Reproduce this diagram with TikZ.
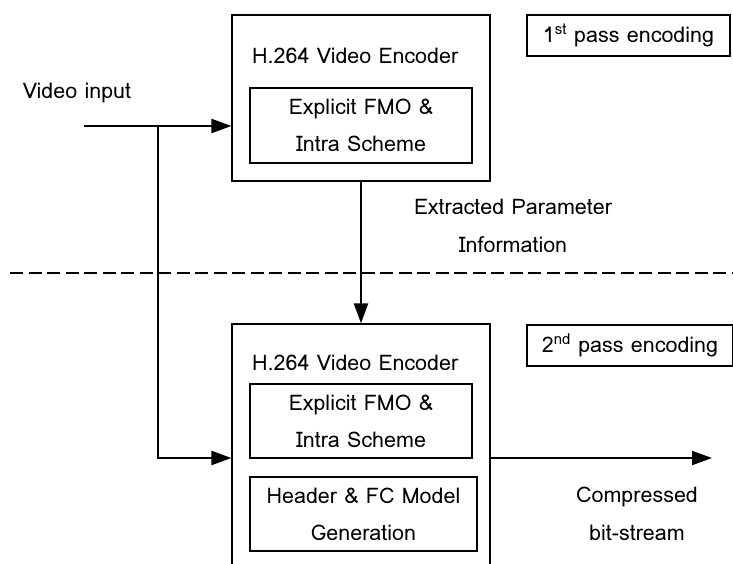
\documentclass[tikz,border=0pt]{standalone}
\usepackage{fontspec}
\setmainfont{Loma}
\usetikzlibrary{arrows.meta}
\tikzstyle{encbox}=[draw,line width=1.2pt,minimum width=258pt,inner sep=0pt]
\tikzstyle{subbox}=[draw,line width=1.2pt,align=center,inner sep=0pt,font=\fontsize{21.5}{37}\selectfont]
\tikzstyle{passbox}=[draw,line width=1.2pt,minimum width=203pt,minimum height=41pt,inner sep=0pt]
\tikzstyle{lbl}=[align=center,inner sep=0pt,font=\fontsize{21.5}{38}\selectfont]
\tikzstyle{flow}=[line width=2.2pt,-{Triangle[length=20pt,width=14pt]}]

\begin{document}
\begin{tikzpicture}[x=1pt,y=-1pt,font=\fontsize{21.5}{25}\selectfont]
\useasboundingbox (0,0) rectangle (733,564);
\clip (0,0) rectangle (733,564);
% first pass
\node[encbox,minimum height=166pt] at (361,98) (enc1) {};
\node[anchor=west,inner sep=0pt] at (252,56) (title1) {H.264 Video Encoder};
\node[subbox,minimum width=222pt,minimum height=75pt] at (361,125.5) (fmo1) {Explicit FMO \&\\Intra Scheme};
\node[passbox] at (628.5,35.5) (pass1) {1\textsuperscript{st} pass encoding};
\node[anchor=center,inner sep=0pt] at (77,93) (vinlbl) {Video input};
\coordinate (vin) at (84,126);
\coordinate (br) at (158,126);

% second pass
\node[encbox,minimum height=260pt] at (361,454) (enc2) {};
\node[anchor=west,inner sep=0pt] at (252,363) (title2) {H.264 Video Encoder};
\node[subbox,minimum width=222pt,minimum height=74pt] at (361,421) (fmo2) {Explicit FMO \&\\Intra Scheme};
\node[subbox,minimum width=227pt,minimum height=74pt] at (363.5,514) (hdr2) {Header \& FC Model\\Generation};
\node[passbox,minimum width=206pt] at (630,345.5) (pass2) {2\textsuperscript{nd} pass encoding};
\coordinate (out) at (712,458);

\node[lbl] at (513,226) (param) {Extracted Parameter\\Information};
\node[lbl] at (637,514) (cbs) {Compressed\\bit-stream};

\draw[line width=1.2pt,dash pattern=on 13pt off 5.5pt] (10,273) -- (733,273);

\draw[flow] (vin) -- (vin -| enc1.west);
\draw[flow] (br) |- (enc2.west |- out);
\draw[flow] (enc1.south) -- (enc2.north);
\draw[flow] (enc2.east |- out) -- (out);

\end{tikzpicture}
\end{document}
